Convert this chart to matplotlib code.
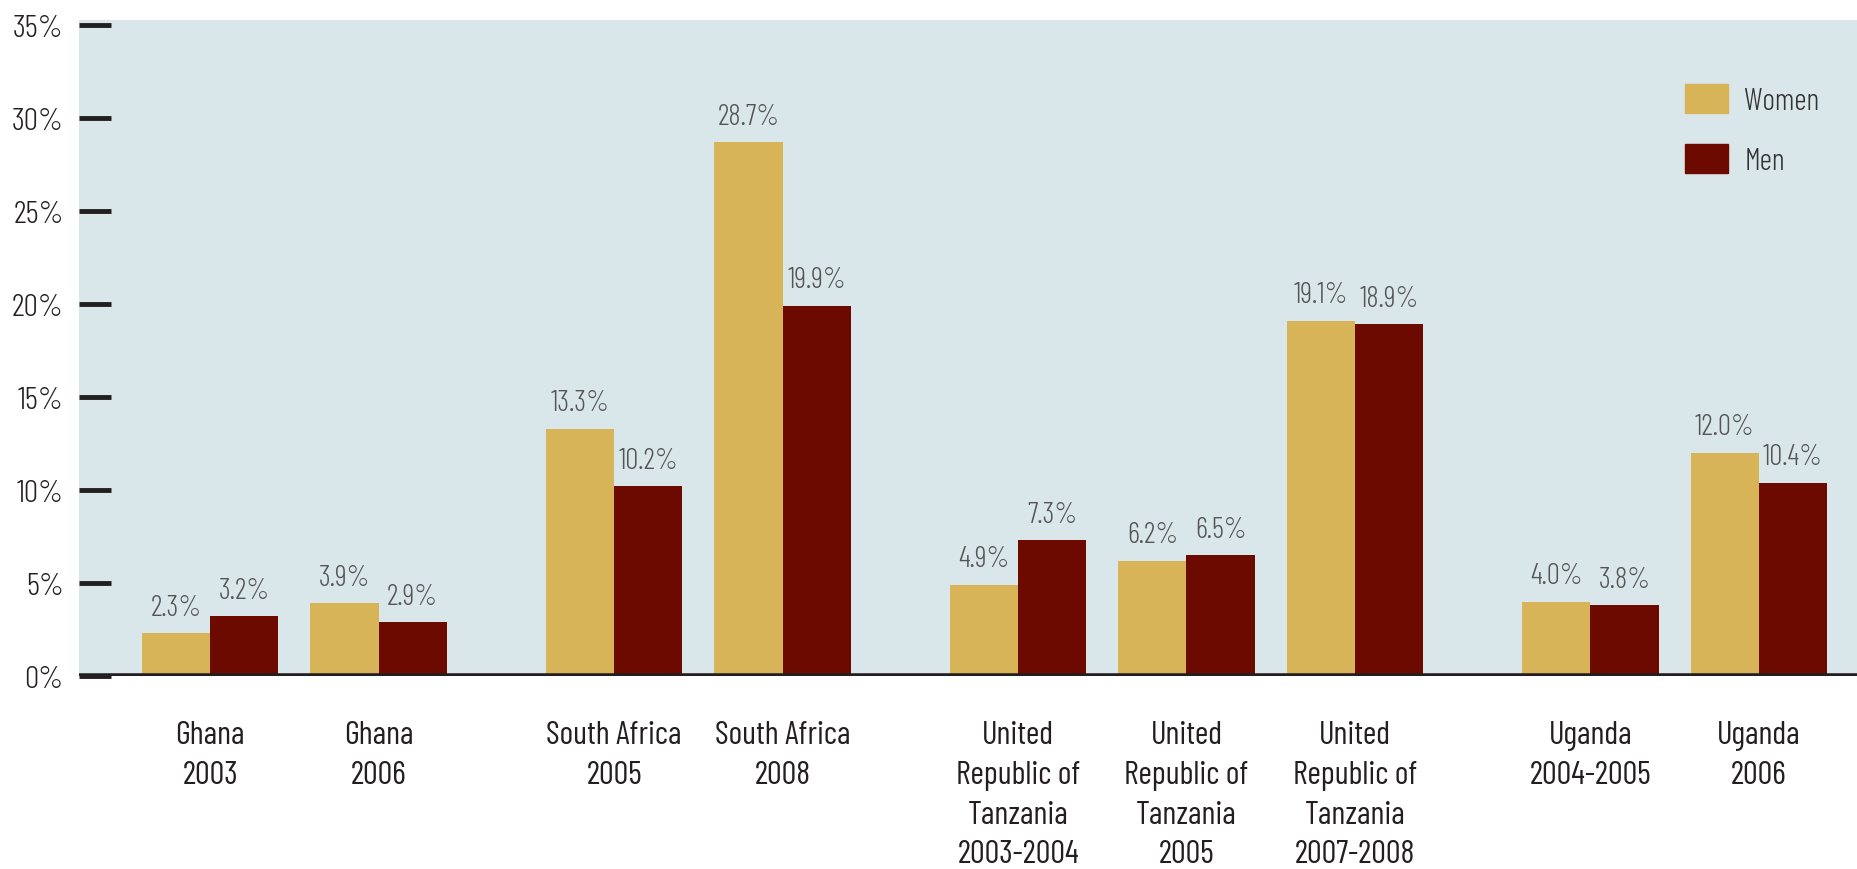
import matplotlib
matplotlib.use("Agg")
import matplotlib.pyplot as plt
import matplotlib.patches as mpatches
import numpy as np

plt.rcParams["font.family"] = ["Barlow Condensed", "DejaVu Sans"]

# data
categories = [
    "Ghana\n2003", "Ghana\n2006",
    "South Africa\n2005", "South Africa\n2008",
    "United\nRepublic of\nTanzania\n2003-2004",
    "United\nRepublic of\nTanzania\n2005",
    "United\nRepublic of\nTanzania\n2007-2008",
    "Uganda\n2004-2005", "Uganda\n2006",
]
group_sizes = [2, 2, 3, 2]
women = [2.3, 3.9, 13.3, 28.7, 4.9, 6.2, 19.1, 4.0, 12.0]
men = [3.2, 2.9, 10.2, 19.9, 7.3, 6.5, 18.9, 3.8, 10.4]
yticks = [0, 5, 10, 15, 20, 25, 30, 35]

COL_W = "#d8b458"
COL_M = "#6d0a00"
BG = "#d9e7eb"
DARK = "#231f20"

# x positions: unit spacing inside a country, extra gap between countries
GAP = 0.4
pos = []
x = 0.0
for g in group_sizes:
    for i in range(g):
        pos.append(x)
        x += 1.0
    x += GAP
pos = np.array(pos)
bw = 0.405

fig = plt.figure(figsize=(18.58, 8.70), dpi=100)
ax = fig.add_axes([79 / 1858, 1 - 677 / 870, 1 - 79 / 1858, (677 - 21) / 870])
ax.set_facecolor(BG)

bars_w = ax.bar(pos - bw / 2, women, width=bw, color=COL_W, zorder=2)
bars_m = ax.bar(pos + bw / 2, men, width=bw, color=COL_M, zorder=2)

for bars, vals in [(bars_w, women), (bars_m, men)]:
    for b, v in zip(bars, vals):
        ax.annotate(f"{v:.1f}%", (b.get_x() + b.get_width() / 2, b.get_height()),
                    xytext=(0, 9), textcoords="offset points",
                    ha="center", va="bottom", fontsize=21, fontweight=300,
                    color="#555555")

ax.axhline(0, color=DARK, lw=4, zorder=3)

ax.set_xlim(-0.78, 9.79)
ax.set_ylim(0, 35.27)
for s in ax.spines.values():
    s.set_visible(False)

ax.set_yticks(yticks)
ax.set_yticklabels([f"{t}%" for t in yticks], fontweight=300)
ax.tick_params(axis="y", direction="in", length=23, width=3.5, color=DARK,
               pad=11, labelsize=23, labelcolor=DARK)

ax.set_xticks(pos)
ax.set_xticklabels(categories, linespacing=1.42)
ax.tick_params(axis="x", length=0, pad=32, labelsize=23.5, labelcolor=DARK)

handles = [mpatches.Patch(color=COL_W, label="Women"),
           mpatches.Patch(color=COL_M, label="Men")]
leg = ax.legend(handles=handles, loc="upper left", bbox_to_anchor=(0.9027, 0.903),
                frameon=False, borderpad=0, borderaxespad=0,
                prop={"size": 22, "weight": 300}, handlelength=1.4,
                handleheight=1.1, labelspacing=0.95, handletextpad=0.55)
for t in leg.get_texts():
    t.set_color("#333333")

fig.savefig("out.png", dpi=100, facecolor="white")
